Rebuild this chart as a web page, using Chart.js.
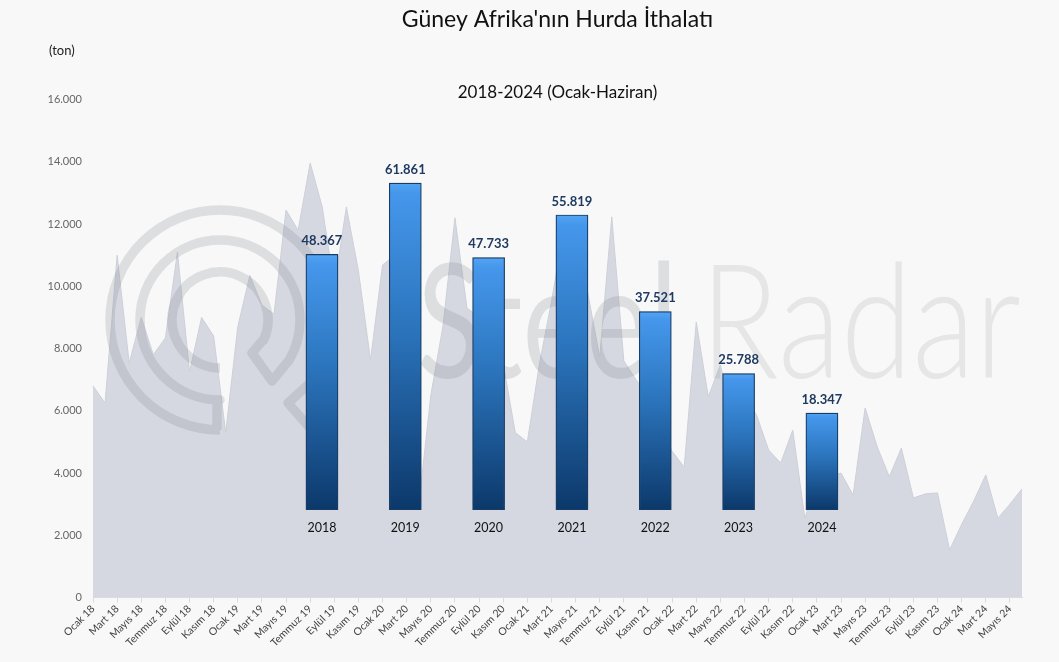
<!DOCTYPE html>
<html lang="tr">
<head>
<meta charset="utf-8">
<title>Güney Afrika'nın Hurda İthalatı</title>
<script src="https://cdn.jsdelivr.net/npm/chart.js@4"></script>
<style>
html,body{margin:0;padding:0;background:#f8f8f8;overflow:hidden}
#wrap{position:relative;width:1059px;height:662px}
canvas{position:absolute;left:0;top:0}
</style>
</head>
<body>
<div id="wrap">
<canvas id="areaChart" width="1059" height="662"></canvas>
<canvas id="barChart" width="1059" height="662"></canvas>
</div>
<script>
const months = [
"Ocak 18","Şubat 18","Mart 18","Nisan 18","Mayıs 18","Haziran 18","Temmuz 18","Ağustos 18","Eylül 18","Ekim 18","Kasım 18","Aralık 18",
"Ocak 19","Şubat 19","Mart 19","Nisan 19","Mayıs 19","Haziran 19","Temmuz 19","Ağustos 19","Eylül 19","Ekim 19","Kasım 19","Aralık 19",
"Ocak 20","Şubat 20","Mart 20","Nisan 20","Mayıs 20","Haziran 20","Temmuz 20","Ağustos 20","Eylül 20","Ekim 20","Kasım 20","Aralık 20",
"Ocak 21","Şubat 21","Mart 21","Nisan 21","Mayıs 21","Haziran 21","Temmuz 21","Ağustos 21","Eylül 21","Ekim 21","Kasım 21","Aralık 21",
"Ocak 22","Şubat 22","Mart 22","Nisan 22","Mayıs 22","Haziran 22","Temmuz 22","Ağustos 22","Eylül 22","Ekim 22","Kasım 22","Aralık 22",
"Ocak 23","Şubat 23","Mart 23","Nisan 23","Mayıs 23","Haziran 23","Temmuz 23","Ağustos 23","Eylül 23","Ekim 23","Kasım 23","Aralık 23",
"Ocak 24","Şubat 24","Mart 24","Nisan 24","Mayıs 24","Haziran 24"];
const monthlyTons = [
6800,6250,11000,7530,9000,7800,8340,11100,7250,9000,8400,5300,
8700,10350,9400,9100,12450,11800,13960,12550,10000,12550,10500,7630,
10680,11000,7800,2970,6500,8700,12200,9300,9000,8200,7500,5300,
5000,7500,9500,11800,12200,9800,7730,12230,7600,7000,6500,5500,
4700,4190,8850,6450,7470,5860,6500,5860,4740,4320,5380,2550,
3700,3870,4000,3290,6090,4840,3880,4800,3200,3330,3360,1530,
2350,3100,3940,2550,3000,3490];
const years = ["2018","2019","2020","2021","2022","2023","2024"];
const periodTotals = [48367,61861,47733,55819,37521,25788,18347];
const titleText = "Güney Afrika'nın Hurda İthalatı";
const subtitleText = "2018-2024 (Ocak-Haziran)";
const unitText = "(ton)";
const fmt = v => v.toLocaleString("tr-TR");

const watermark = {
  id:"watermark",
  afterDatasetsDraw(chart){
    const c = chart.ctx;
    c.save();
    c.strokeStyle = "rgba(125,128,138,0.21)";
    c.lineWidth = 9.5;
    c.lineJoin = "round";
    const R = d => d*Math.PI/180, cx = 220, cy = 320;
    c.beginPath();
    c.arc(cx,cy,110,R(90),R(395));
    c.lineTo(288,403); c.lineTo(322,442);
    c.moveTo(217,430); c.lineTo(217,400);
    c.arc(cx,cy,80,R(90),R(390));
    c.lineTo(272,381); c.lineTo(252,353);
    c.lineTo(263,340);
    c.arc(cx,cy,48,R(25),R(-270),true);
    c.stroke();
    const word = (txt,x0,x1,font,col) => {
      c.font = font; c.fillStyle = col; c.textBaseline = "alphabetic"; c.textAlign = "left";
      const w = c.measureText(txt).width;
      c.save(); c.translate(x0,378); c.scale((x1-x0)/w,1); c.fillText(txt,0,0); c.restore();
    };
    word("Steel",417,678,"400 160px Lato","rgba(125,128,138,0.21)");
    word("Radar",700,1021,"300 160px Lato","rgba(140,140,145,0.17)");
    c.restore();
  }
};
const unitLabel = {
  id:"unitLabel",
  afterDraw(chart){
    const c = chart.ctx;
    c.save();
    c.font = "13px Lato"; c.fillStyle = "#222"; c.textAlign = "left"; c.textBaseline = "middle";
    c.fillText(unitText,49,51);
    c.restore();
  }
};
new Chart(document.getElementById("areaChart"),{
  type:"line",
  data:{labels:months,datasets:[{
    data:monthlyTons,fill:"origin",backgroundColor:"#d5d8e0",borderColor:"#cdd0d8",borderWidth:1,pointRadius:0,tension:0
  }]},
  plugins:[watermark,unitLabel],
  options:{
    responsive:false,animation:false,
    layout:{padding:{left:0,right:37,top:0,bottom:0}},
    plugins:{
      legend:{display:false},tooltip:{enabled:false},
      title:{display:true,text:titleText,fullSize:false,color:"#111",font:{family:"Lato",size:23,weight:"normal",lineHeight:1.25},padding:{top:5,bottom:0}},
      subtitle:{display:true,text:subtitleText,fullSize:false,color:"#111",font:{family:"Lato",size:17,weight:"normal",lineHeight:1.2},padding:{top:48.5,bottom:-3.15}}
    },
    scales:{
      x:{offset:false,
        grid:{drawOnChartArea:false,drawTicks:true,tickLength:5,color:c=>c.index%2===0?"#d9d9d9":"rgba(0,0,0,0)"},
        border:{color:"#dcdcdc"},
        afterFit:s=>{s.height=64.5;},
        ticks:{autoSkip:false,minRotation:45,maxRotation:45,padding:0,color:"#444",font:{family:"Lato",size:10.5},
          callback(v,i){return i%2===0?this.getLabelForValue(v):"";}}
      },
      y:{min:0,max:16000,
        grid:{display:false},border:{display:false},
        afterFit:s=>{s.width=93;},
        ticks:{stepSize:2000,padding:3,color:"#666",font:{family:"Lato",size:11},callback:v=>fmt(v)}
      }
    }
  }
});

const valueLabels = {
  id:"valueLabels",
  beforeDatasetDraw(chart){
    const c = chart.ctx; c.save();
    c.shadowColor = "rgba(60,70,90,0.35)"; c.shadowBlur = 7; c.shadowOffsetX = 0; c.shadowOffsetY = 0;
  },
  afterDatasetDraw(chart){ chart.ctx.restore(); },
  afterDatasetsDraw(chart){
    const c = chart.ctx;
    c.save();
    c.font = "700 13px Lato"; c.fillStyle = "#1f3a60"; c.textAlign = "center"; c.textBaseline = "middle";
    chart.getDatasetMeta(0).data.forEach((bar,i)=>c.fillText(fmt(periodTotals[i]),bar.x,bar.y-13.5));
    c.restore();
  }
};
new Chart(document.getElementById("barChart"),{
  type:"bar",
  data:{labels:years,datasets:[{
    data:periodTotals,barThickness:32,borderWidth:1.2,borderColor:"#123c68",borderSkipped:false,
    backgroundColor(ctx){
      const ch = ctx.chart;
      if(!ch.chartArea || !ctx.parsed) return "#2a6fb5";
      const top = ch.scales.y.getPixelForValue(ctx.parsed.y), bot = ch.scales.y.getPixelForValue(0);
      const g = ch.ctx.createLinearGradient(0,top,0,bot);
      const edge = Math.min(0.04,10/(bot-top));
      g.addColorStop(0,"#54a4f2");
      g.addColorStop(edge,"#4597ec");
      g.addColorStop(0.45,"#2b74bc");
      g.addColorStop(1,"#0c386a");
      return g;
    }
  }]},
  plugins:[valueLabels],
  options:{
    responsive:false,animation:false,
    layout:{padding:{left:280.3,right:195.4,top:140,bottom:0}},
    plugins:{legend:{display:false},tooltip:{enabled:false}},
    scales:{
      x:{grid:{display:false},border:{display:false},
        afterFit:s=>{s.height=152;},
        ticks:{padding:2,color:"#111",maxRotation:0,font:{family:"Lato",size:12.5}}},
      y:{display:false,min:0,max:70000}
    }
  }
});
</script>
</body>
</html>
